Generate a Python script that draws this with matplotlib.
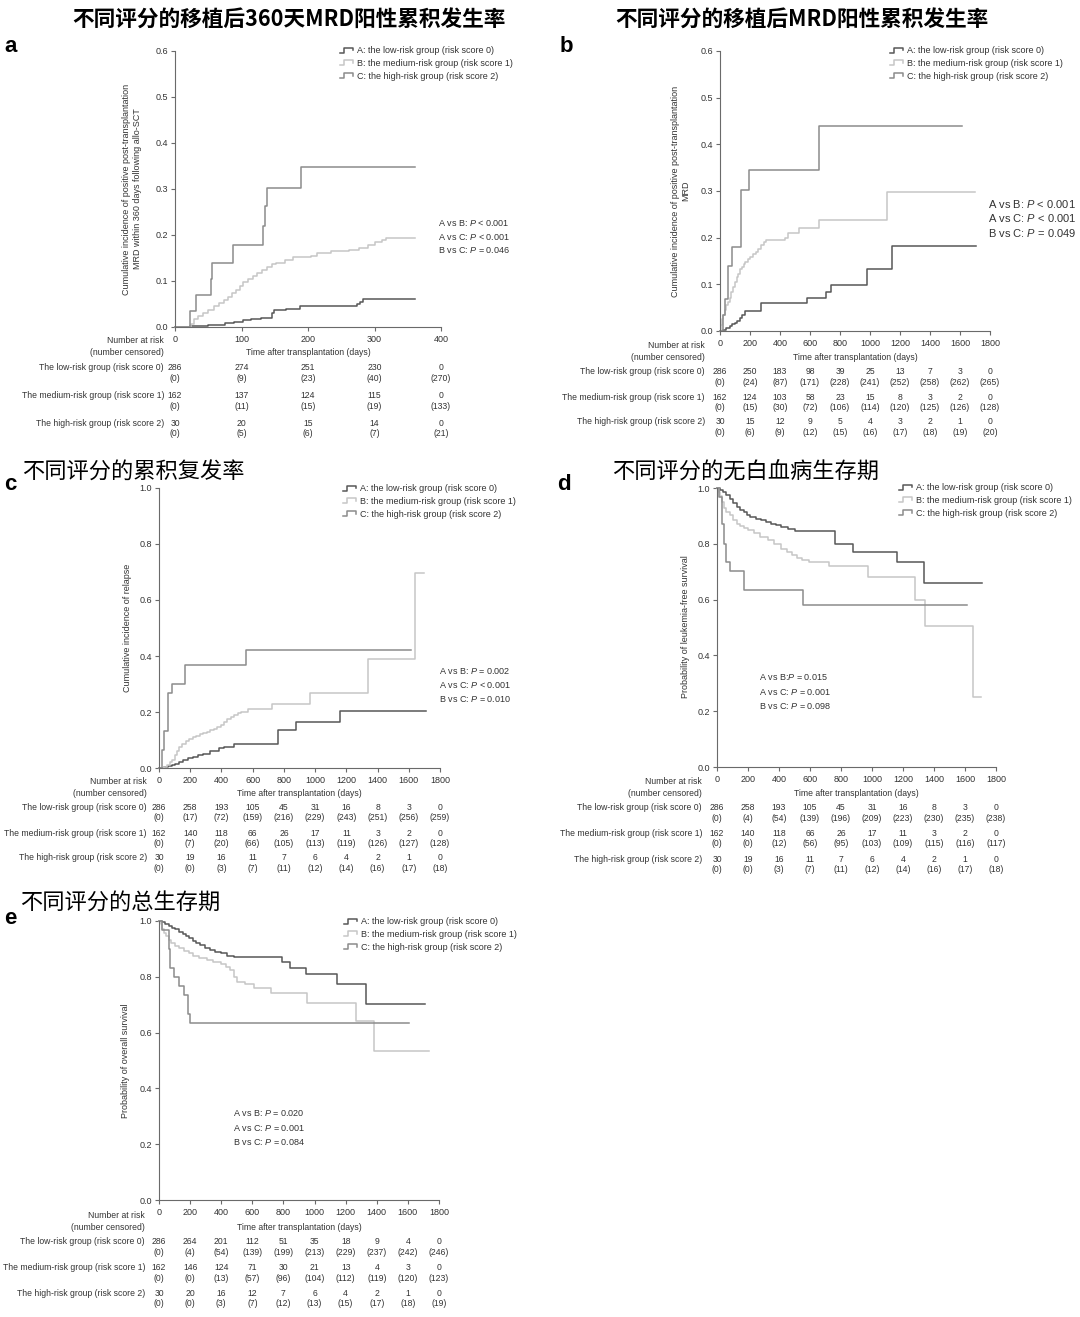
import numpy as np
import matplotlib
matplotlib.use('Agg')
import matplotlib.pyplot as plt
from matplotlib.lines import Line2D
from matplotlib.legend_handler import HandlerBase
from matplotlib.ticker import FormatStrFormatter
from matplotlib.transforms import blended_transform_factory

plt.rcParams['font.family'] = ['Liberation Sans', 'Noto Sans CJK SC', 'DejaVu Sans']
plt.rcParams['mathtext.fontset'] = 'custom'
plt.rcParams['mathtext.it'] = 'Liberation Sans:italic'
plt.rcParams['mathtext.rm'] = 'Liberation Sans'

W, H = 1080, 1317

# ---- curves (days, value) ----
# a: MRD within 360 days
mrd360_days_A = [0, 23, 35, 50, 62, 75, 89, 102, 115, 130, 146, 149, 167, 188, 273, 278, 283, 361]
mrd360_A = [0, 0.002, 0.003, 0.004, 0.005, 0.008, 0.010, 0.015, 0.017, 0.020, 0.030, 0.036, 0.040, 0.045, 0.050, 0.055, 0.060, 0.060]
mrd360_days_B = [0, 24, 28, 35, 42, 50, 58, 66, 74, 80, 86, 92, 97, 103, 110, 117, 124, 131, 138, 146, 152, 165, 178, 205, 214, 234, 262, 277, 290, 300, 312, 318, 361]
mrd360_B = [0, 0.007, 0.017, 0.024, 0.031, 0.038, 0.045, 0.052, 0.059, 0.066, 0.073, 0.080, 0.090, 0.097, 0.104, 0.111, 0.118, 0.124, 0.131, 0.136, 0.140, 0.146, 0.152, 0.155, 0.160, 0.165, 0.168, 0.172, 0.179, 0.184, 0.189, 0.194, 0.194]
mrd360_days_C = [0, 23, 31, 54, 56, 87, 132, 135, 138, 189, 361]
mrd360_C = [0, 0.035, 0.069, 0.105, 0.139, 0.179, 0.220, 0.262, 0.302, 0.347, 0.347]

# b: MRD overall
mrd_days_A = [0, 18, 40, 64, 82, 99, 115, 133, 145, 168, 271, 582, 708, 742, 979, 1145, 1708]
mrd_A = [0, 0.003, 0.006, 0.010, 0.014, 0.018, 0.022, 0.027, 0.035, 0.043, 0.060, 0.070, 0.083, 0.098, 0.133, 0.183, 0.183]
mrd_days_B = [0, 5, 12, 20, 30, 40, 52, 64, 76, 87, 100, 112, 122, 135, 145, 158, 168, 185, 202, 220, 237, 255, 271, 290, 306, 432, 455, 524, 657, 1110, 1697]
mrd_B = [0, 0.012, 0.025, 0.035, 0.045, 0.055, 0.062, 0.070, 0.083, 0.095, 0.105, 0.115, 0.123, 0.132, 0.138, 0.143, 0.148, 0.154, 0.159, 0.165, 0.170, 0.176, 0.184, 0.190, 0.195, 0.200, 0.210, 0.221, 0.237, 0.297, 0.297]
mrd_days_C = [0, 18, 30, 53, 80, 138, 191, 657, 1616]
mrd_C = [0, 0.034, 0.069, 0.139, 0.179, 0.302, 0.346, 0.440, 0.440]

# c: cumulative incidence of relapse
rel_days_A = [0, 35, 60, 84, 105, 128, 155, 184, 217, 250, 283, 328, 383, 416, 483, 760, 877, 1162, 1711]
rel_A = [0, 0.003, 0.006, 0.010, 0.015, 0.020, 0.028, 0.035, 0.040, 0.045, 0.050, 0.060, 0.070, 0.075, 0.085, 0.135, 0.165, 0.205, 0.205]
rel_days_B = [0, 30, 50, 70, 85, 100, 115, 128, 150, 173, 195, 217, 240, 261, 283, 305, 328, 350, 372, 394, 416, 438, 460, 483, 505, 527, 571, 726, 970, 1339, 1640, 1696]
rel_B = [0, 0.005, 0.012, 0.020, 0.030, 0.045, 0.060, 0.075, 0.085, 0.095, 0.103, 0.110, 0.115, 0.120, 0.125, 0.130, 0.135, 0.140, 0.148, 0.155, 0.165, 0.175, 0.182, 0.190, 0.195, 0.200, 0.210, 0.228, 0.268, 0.390, 0.695, 0.695]
rel_days_C = [0, 18, 35, 58, 84, 168, 558, 1612]
rel_C = [0, 0.065, 0.133, 0.267, 0.300, 0.367, 0.421, 0.421]

# d: leukemia-free survival
lfs_days_A = [0, 20, 38, 60, 82, 105, 127, 150, 171, 193, 216, 250, 282, 315, 349, 380, 416, 460, 504, 760, 878, 1164, 1333, 1711]
lfs_A = [1.0, 0.993, 0.986, 0.975, 0.962, 0.948, 0.932, 0.922, 0.914, 0.905, 0.896, 0.890, 0.884, 0.878, 0.872, 0.866, 0.861, 0.853, 0.845, 0.800, 0.771, 0.733, 0.660, 0.660]
lfs_days_B = [0, 10, 20, 30, 45, 60, 82, 105, 127, 150, 171, 200, 238, 280, 327, 370, 416, 450, 482, 515, 549, 593, 722, 971, 1276, 1342, 1649, 1700]
lfs_B = [1.0, 0.985, 0.970, 0.950, 0.930, 0.915, 0.902, 0.886, 0.872, 0.864, 0.858, 0.848, 0.837, 0.825, 0.813, 0.800, 0.783, 0.770, 0.759, 0.750, 0.741, 0.735, 0.720, 0.680, 0.600, 0.505, 0.250, 0.250]
lfs_days_C = [0, 15, 31, 45, 60, 82, 171, 556, 1616]
lfs_C = [1.0, 0.967, 0.870, 0.800, 0.734, 0.702, 0.635, 0.580, 0.580]

# e: overall survival
os_days_A = [0, 20, 40, 62, 84, 106, 129, 152, 174, 196, 218, 240, 262, 296, 329, 362, 396, 440, 484, 791, 840, 942, 1147, 1329, 1707]
os_A = [1.0, 0.995, 0.988, 0.982, 0.976, 0.970, 0.962, 0.954, 0.946, 0.938, 0.930, 0.922, 0.914, 0.905, 0.896, 0.890, 0.884, 0.876, 0.872, 0.854, 0.833, 0.809, 0.773, 0.704, 0.704]
os_days_B = [0, 10, 18, 30, 45, 62, 80, 100, 129, 160, 190, 218, 260, 307, 350, 396, 430, 458, 480, 502, 551, 613, 718, 951, 1269, 1384, 1736]
os_B = [1.0, 0.988, 0.970, 0.958, 0.945, 0.932, 0.920, 0.910, 0.902, 0.893, 0.884, 0.876, 0.868, 0.860, 0.852, 0.845, 0.835, 0.824, 0.800, 0.783, 0.773, 0.759, 0.741, 0.705, 0.642, 0.535, 0.535]
os_days_C = [0, 18, 62, 70, 95, 128, 160, 184, 202, 1606]
os_C = [1.0, 0.967, 0.900, 0.833, 0.800, 0.767, 0.733, 0.667, 0.633, 0.633]

# ---- number at risk tables ----
ticks_360 = [0, 100, 200, 300, 400]
ticks_1800 = [0, 200, 400, 600, 800, 1000, 1200, 1400, 1600, 1800]

mrd360_risk = [[286, 274, 251, 230, 0], [162, 137, 124, 115, 0], [30, 20, 15, 14, 0]]
mrd360_cens = [[0, 9, 23, 40, 270], [0, 11, 15, 19, 133], [0, 5, 6, 7, 21]]

mrd_risk = [[286, 250, 183, 98, 39, 25, 13, 7, 3, 0],
            [162, 124, 103, 58, 23, 15, 8, 3, 2, 0],
            [30, 15, 12, 9, 5, 4, 3, 2, 1, 0]]
mrd_cens = [[0, 24, 87, 171, 228, 241, 252, 258, 262, 265],
            [0, 15, 30, 72, 106, 114, 120, 125, 126, 128],
            [0, 6, 9, 12, 15, 16, 17, 18, 19, 20]]

rel_risk = [[286, 258, 193, 105, 45, 31, 16, 8, 3, 0],
            [162, 140, 118, 66, 26, 17, 11, 3, 2, 0],
            [30, 19, 16, 11, 7, 6, 4, 2, 1, 0]]
rel_cens = [[0, 17, 72, 159, 216, 229, 243, 251, 256, 259],
            [0, 7, 20, 66, 105, 113, 119, 126, 127, 128],
            [0, 0, 3, 7, 11, 12, 14, 16, 17, 18]]

lfs_risk = [[286, 258, 193, 105, 45, 31, 16, 8, 3, 0],
            [162, 140, 118, 66, 26, 17, 11, 3, 2, 0],
            [30, 19, 16, 11, 7, 6, 4, 2, 1, 0]]
lfs_cens = [[0, 4, 54, 139, 196, 209, 223, 230, 235, 238],
            [0, 0, 12, 56, 95, 103, 109, 115, 116, 117],
            [0, 0, 3, 7, 11, 12, 14, 16, 17, 18]]

os_risk = [[286, 264, 201, 112, 51, 35, 18, 9, 4, 0],
           [162, 146, 124, 71, 30, 21, 13, 4, 3, 0],
           [30, 20, 16, 12, 7, 6, 4, 2, 1, 0]]
os_cens = [[0, 4, 54, 139, 199, 213, 229, 237, 242, 246],
           [0, 0, 13, 57, 96, 104, 112, 119, 120, 123],
           [0, 0, 3, 7, 12, 13, 15, 17, 18, 19]]

group_labels = ['A: the low-risk group (risk score 0)',
                'B: the medium-risk group (risk score 1)',
                'C: the high-risk group (risk score 2)']
row_labels = ['The low-risk group (risk score 0)',
              'The medium-risk group (risk score 1)',
              'The high-risk group (risk score 2)']

pvals_a = ['A vs B: $\\it{P}$ < 0.001', 'A vs C: $\\it{P}$ < 0.001', 'B vs C: $\\it{P}$ = 0.046']
pvals_b = ['A vs B: $\\it{P}$ < 0.001', 'A vs C: $\\it{P}$ < 0.001', 'B vs C: $\\it{P}$ = 0.049']
pvals_c = ['A vs B: $\\it{P}$ = 0.002', 'A vs C: $\\it{P}$ < 0.001', 'B vs C: $\\it{P}$ = 0.010']
pvals_d = ['A vs B:$\\it{P}$ = 0.015', 'A vs C: $\\it{P}$ = 0.001', 'B vs C: $\\it{P}$ = 0.098']
pvals_e = ['A vs B: $\\it{P}$ = 0.020', 'A vs C: $\\it{P}$ = 0.001', 'B vs C: $\\it{P}$ = 0.084']

col_A = '#575757'
col_B = '#c6c6c6'
col_C = '#8c8c8c'
txt = '#333333'
spine = '#6a6a6a'
fs = 6.5      # legend, ticks, axis labels
fs_tab = 6.2  # number at risk table


class StepHandler(HandlerBase):
    # small step glyph used in the legend
    def create_artists(self, legend, orig_handle, xdescent, ydescent, width, height, fontsize, trans):
        xs = np.array([0, 0.35, 0.35, 1.0, 1.0]) * width - xdescent
        ys = np.array([0.05, 0.05, 0.85, 0.85, 0.45]) * height - ydescent
        ln = Line2D(xs, ys, color=orig_handle.get_color(), lw=orig_handle.get_linewidth())
        ln.set_transform(trans)
        return [ln]


def fx(px):
    return px / W


def fy(py):
    return 1 - py / H


fig = plt.figure(figsize=(W / 100, H / 100), dpi=100)


def panel(box, curves, xticks, ymax, ystep, risk, cens, rows_y, label_right, time_y,
          legend_xy, pvals, p_xy, p_size, ylabel, ylabel_xy):
    left, right, top, bottom = box
    ax = fig.add_axes([fx(left), fy(bottom), (right - left) / W, (bottom - top) / H])
    handles = []
    for t, v, c in curves:
        ln, = ax.step(t, v, where='post', color=c, lw=1.1, clip_on=False)
        handles.append(ln)

    ax.set_xlim(0, xticks[-1])
    ax.set_ylim(0, ymax)
    ax.set_xticks(xticks)
    ax.set_yticks(np.arange(0, ymax + 1e-9, ystep))
    ax.yaxis.set_major_formatter(FormatStrFormatter('%.1f'))
    for s in ['top', 'right']:
        ax.spines[s].set_visible(False)
    for s in ['left', 'bottom']:
        ax.spines[s].set_color(spine)
        ax.spines[s].set_linewidth(0.8)
    ax.tick_params(colors=spine, labelcolor=txt, labelsize=fs, length=3, width=0.8)
    ax.tick_params(axis='x', pad=3.0)
    ax.tick_params(axis='y', pad=2)

    ax.legend(handles, group_labels, loc='upper left', bbox_to_anchor=(fx(legend_xy[0]), fy(legend_xy[1])),
              bbox_transform=fig.transFigure, frameon=False, fontsize=fs, borderpad=0, borderaxespad=0,
              handlelength=1.4, handletextpad=0.45, labelspacing=0.42,
              handler_map={Line2D: StepHandler()}, labelcolor=txt)

    for i, p in enumerate(pvals):
        fig.text(fx(p_xy[0]), fy(p_xy[1] + i * p_xy[2]), p, fontsize=p_size, color=txt, va='center', ha='left')

    fig.text(fx(ylabel_xy[0]), fy(ylabel_xy[1]), ylabel, rotation=90, fontsize=fs, color=txt,
             ha='center', va='center', multialignment='center')

    # number at risk table
    trans = blended_transform_factory(ax.transData, fig.transFigure)
    tick_y = rows_y[0]
    fig.text(fx(label_right), fy(tick_y), 'Number at risk', ha='right', va='center', fontsize=fs_tab, color=txt)
    fig.text(fx(label_right), fy(time_y), '(number censored)', ha='right', va='center', fontsize=fs_tab, color=txt)
    fig.text(fx((left + right) / 2), fy(time_y), 'Time after transplantation (days)', ha='center', va='center',
             fontsize=fs_tab, color=txt)
    for i in range(3):
        ny = rows_y[1 + i]
        fig.text(fx(label_right), fy(ny), row_labels[i], ha='right', va='center', fontsize=fs_tab, color=txt)
        for x, n, c in zip(xticks, risk[i], cens[i]):
            fig.text(x, fy(ny), str(n), transform=trans, ha='center', va='center', fontsize=fs_tab, color=txt)
            fig.text(x, fy(ny + 10.5), '(%d)' % c, transform=trans, ha='center', va='center', fontsize=fs_tab,
                     color=txt)
    return ax


# a
panel((175, 441, 51, 327),
      [(mrd360_days_A, mrd360_A, col_A), (mrd360_days_B, mrd360_B, col_B), (mrd360_days_C, mrd360_C, col_C)],
      ticks_360, 0.6, 0.1, mrd360_risk, mrd360_cens, [341, 368, 396, 423], 164, 353,
      (340, 46), pvals_a, (438, 222, 14), 6.5,
      'Cumulative incidence of positive post-transplantation\nMRD within 360 days following allo-SCT', (132, 189))

# b
panel((720, 990, 51, 331),
      [(mrd_days_A, mrd_A, col_A), (mrd_days_B, mrd_B, col_B), (mrd_days_C, mrd_C, col_C)],
      ticks_1800, 0.6, 0.1, mrd_risk, mrd_cens, [345, 372, 397, 422], 705, 357,
      (890, 46), pvals_b, (988, 204, 14.5), 8.0,
      'Cumulative incidence of positive post-transplantation\nMRD', (681, 191))

# c
panel((159, 440, 488, 768),
      [(rel_days_A, rel_A, col_A), (rel_days_B, rel_B, col_B), (rel_days_C, rel_C, col_C)],
      ticks_1800, 1.0, 0.2, rel_risk, rel_cens, [782, 807, 833, 858], 147, 794,
      (343, 484), pvals_c, (439, 670, 14.5), 6.5,
      'Cumulative incidence of relapse', (127, 628))

# d
panel((717, 996, 488, 767),
      [(lfs_days_A, lfs_A, col_A), (lfs_days_B, lfs_B, col_B), (lfs_days_C, lfs_C, col_C)],
      ticks_1800, 1.0, 0.2, lfs_risk, lfs_cens, [782, 808, 833, 859], 702, 794,
      (899, 483), pvals_d, (759, 677, 14.5), 6.5,
      'Probability of leukemia-free survival', (685, 627))

# e
panel((159, 439, 921, 1200),
      [(os_days_A, os_A, col_A), (os_days_B, os_B, col_B), (os_days_C, os_C, col_C)],
      ticks_1800, 1.0, 0.2, os_risk, os_cens, [1215, 1242, 1268, 1293], 145, 1228,
      (344, 917), pvals_e, (233, 1113, 14.5), 6.5,
      'Probability of overall survival', (125, 1061))

# titles and panel letters
cjk = ['Noto Sans CJK SC', 'DejaVu Sans']
fig.text(fx(72), fy(20), '不同评分的移植后360天MRD阳性累积发生率', family=cjk, fontsize=15.6, weight='bold', va='center')
fig.text(fx(615), fy(20), '不同评分的移植后MRD阳性累积发生率', family=cjk, fontsize=15.6, weight='bold', va='center')
fig.text(fx(22), fy(472), '不同评分的累积复发率', family=cjk, fontsize=16, va='center')
fig.text(fx(612), fy(472), '不同评分的无白血病生存期', family=cjk, fontsize=16, va='center')
fig.text(fx(20), fy(903), '不同评分的总生存期', family=cjk, fontsize=16, va='center')

for letter, lx, ly in [('a', 4, 46), ('b', 560, 46), ('c', 4, 485), ('d', 557, 484), ('e', 4, 918)]:
    fig.text(fx(lx), fy(ly), letter, fontsize=16, weight='bold', va='center', ha='left')

fig.savefig('out.png', dpi=100, facecolor='white')
